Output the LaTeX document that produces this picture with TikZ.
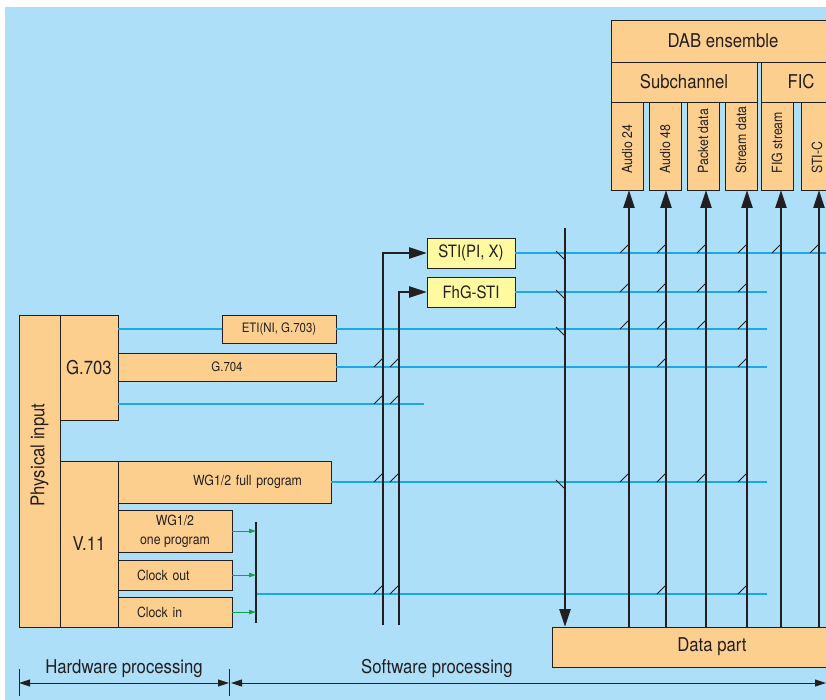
\documentclass[tikz,border=0pt]{standalone}
\usepackage{fontspec}
\setmainfont{TeX Gyre Heros}[FakeStretch=0.88]
\usetikzlibrary{arrows.meta,calc,positioning}
\definecolor{DABbg}{HTML}{ADDFF8}
\definecolor{DABbox}{HTML}{FDCF8F}
\definecolor{DAByel}{HTML}{FFF9A0}
\definecolor{DABcyan}{HTML}{1CA8E4}
\definecolor{DABgreen}{HTML}{12A34B}
\definecolor{DABdark}{HTML}{231F20}
\newcommand{\tup}[2]{\draw[slash] (#1-9,#2) -- (#1-1,#2-8);}
\newcommand{\tdn}[2]{\draw[slash] (#1-9,#2-2) -- (#1-1,#2+6);}

\begin{document}
\begin{tikzpicture}[x=1pt,y=-1pt,
  box/.style={draw=DABdark,line width=0.8pt,fill=DABbox,text=DABdark,inner sep=0pt,outer sep=0pt,anchor=north west},
  stibox/.style={box,fill=DAByel},
  fbig/.style={font=\fontsize{19}{22}\selectfont},
  fmid/.style={font=\fontsize{17}{20}\selectfont},
  fsmall/.style={font=\fontsize{14}{19}\selectfont},
  ftiny/.style={font=\fontsize{13}{16}\selectfont},
  sig/.style={DABcyan,line width=1.5pt},
  feed/.style={DABdark,line width=2.6pt},
  arr/.style={-{Triangle[length=18pt,width=11pt]}},
  grn/.style={DABgreen,line width=1pt,-{Triangle[length=7pt,width=4.5pt]}},
  slash/.style={DABdark,line width=1pt},
  dimarr/.style={DABdark,line width=0.9pt,{Triangle[length=11pt,width=7pt]}-{Triangle[length=11pt,width=7pt]}}]
  \useasboundingbox (0,0) rectangle (826,700);
  \clip (0,0) rectangle (826,700);
  \fill[DABbg] (5,7) rectangle (826,700);

  % DAB ensemble side
  \node[box,fbig,minimum width=224,minimum height=42] (dab) at (611,20) {DAB ensemble};
  \node[box,fbig,minimum width=146,minimum height=40] (subch) at (611,62) {Subchannel};
  \node[box,fbig,minimum width=80,minimum height=40] (fic) at (761,62) {FIC};
  \foreach \n/\x/\t in {a24/611/Audio 24,a48/649/Audio 48,pkt/687/Packet data,strm/725/Stream data,figs/761/FIG stream,stic/801/STI-C}{
    \node[box,minimum width=32,minimum height=88] (\n) at (\x,102) {};
    \node[fsmall,text=DABdark,rotate=90,anchor=west] (\n-t) at ([yshift=13pt]\n.south) {\t};
  }
  \node[box,fbig,minimum width=320,minimum height=40] (data) at (552,627) {Data part};

  % STI inputs
  \node[stibox,fmid,minimum width=88,minimum height=30] (sti) at (427,238) {STI(PI, X)};
  \node[stibox,fmid,minimum width=88,minimum height=30] (fhg) at (427,277) {FhG-STI};

  % hardware side
  \node[box,minimum width=41,minimum height=312] (phys) at (19,315) {};
  \node[fbig,text=DABdark,rotate=90] (phys-t) at ([yshift=16pt]phys.center) {Physical input};
  \node[box,fbig,minimum width=58,minimum height=105] (g703) at (60,315) {G.703};
  \node[box,fbig,minimum width=58,minimum height=166] (v11) at (60,461) {V.11};
  \node[box,ftiny,minimum width=114,minimum height=28] (eti) at (222,315) {ETI(NI, G.703)};
  \node[box,ftiny,minimum width=218,minimum height=28] (g704) at (118,353) {G.704};
  \node[box,fsmall,minimum width=213,minimum height=42,text width=155,align=right] (wgfull) at (118,461) {WG1/2 full program};
  \node[box,fsmall,minimum width=114,minimum height=42,align=center] (wgone) at (118,510) {WG1/2\\one program};
  \node[box,fsmall,minimum width=114,minimum height=30,text width=76,align=left] (clko) at (118,560) {Clock out};
  \node[box,fsmall,minimum width=114,minimum height=30,text width=76,align=left] (clki) at (118,597) {Clock in};

  \coordinate (endA) at (767,0);
  \coordinate (endR) at (830,0);
  \coordinate (stub) at (424,0);
  \coordinate (bart) at (256,522);
  \coordinate (barb) at (256,623);
  \coordinate (bmid) at (256,594);
  \coordinate (g703lo) at ([yshift=16pt]g703.south east);

  % signal lines
  \draw[sig] (sti.east) -- (sti.east -| endR);
  \draw[sig] (fhg.east) -- (fhg.east -| endA);
  \draw[sig] (g703.east |- eti.west) -- (eti.west);
  \draw[sig] (eti.east) -- (eti.east -| endA);
  \draw[sig] (g704.east) -- (g704.east -| endA);
  \draw[sig] (g703lo) -- (g703lo -| stub);
  \draw[sig] (wgfull.east) -- (wgfull.east -| endA);
  \draw[sig] (bmid) -- (bmid -| endA);

  \draw[feed,line width=2.2pt] (bart) -- (barb);
  \foreach \n in {wgone,clko,clki}
    \draw[grn] (\n.east) -- (\n.east -| bart);

  % feeds
  \coordinate (s1) at (383,625);
  \coordinate (s2) at (399,625);
  \draw[feed,arr] (s1) |- (sti.west);
  \draw[feed,arr] (s2) |- (fhg.west);
  \coordinate (dtop) at (565,228);
  \draw[feed,arr] (dtop) -- (dtop |- data.north);
  \foreach \n/\x in {a24/629,a48/666,pkt/706,strm/747,figs/781,stic/819}{
    \coordinate (u-\n) at (\x,190);
    \draw[feed,arr] (u-\n |- data.north) -- (u-\n |- \n.south);
  }

  % junction ticks
  \foreach \y in {253,292,329,482} {\tdn{565}{\y}}
  \foreach \y in {253,292,329,482} {\tup{629}{\y} \tup{706}{\y}}
  \foreach \y in {253,292,329,367,482,594} {\tup{666}{\y} \tup{747}{\y}}
  \tup{781}{253} \tup{819}{253}
  \foreach \y in {367,404,482,594} {\tup{383}{\y} \tup{399}{\y}}

  % processing ranges
  \coordinate (hw0) at (19,683);
  \coordinate (hw1) at (229,683);
  \coordinate (sw1) at (826,683);
  \draw[DABdark,line width=0.9pt] ([yshift=14pt]hw0) -- ([yshift=-13pt]hw0);
  \draw[DABdark,line width=0.9pt] ([yshift=14pt]hw1) -- ([yshift=-13pt]hw1);
  \draw[dimarr] (hw0) -- node[fbig,text=DABdark,above=2pt] (hw-t) {Hardware processing} (hw1);
  \draw[dimarr] ([xshift=2pt]hw1) -- node[pos=0.346,fbig,text=DABdark,above=2pt] (sw-t) {Software processing} (sw1);
\end{tikzpicture}
\end{document}
